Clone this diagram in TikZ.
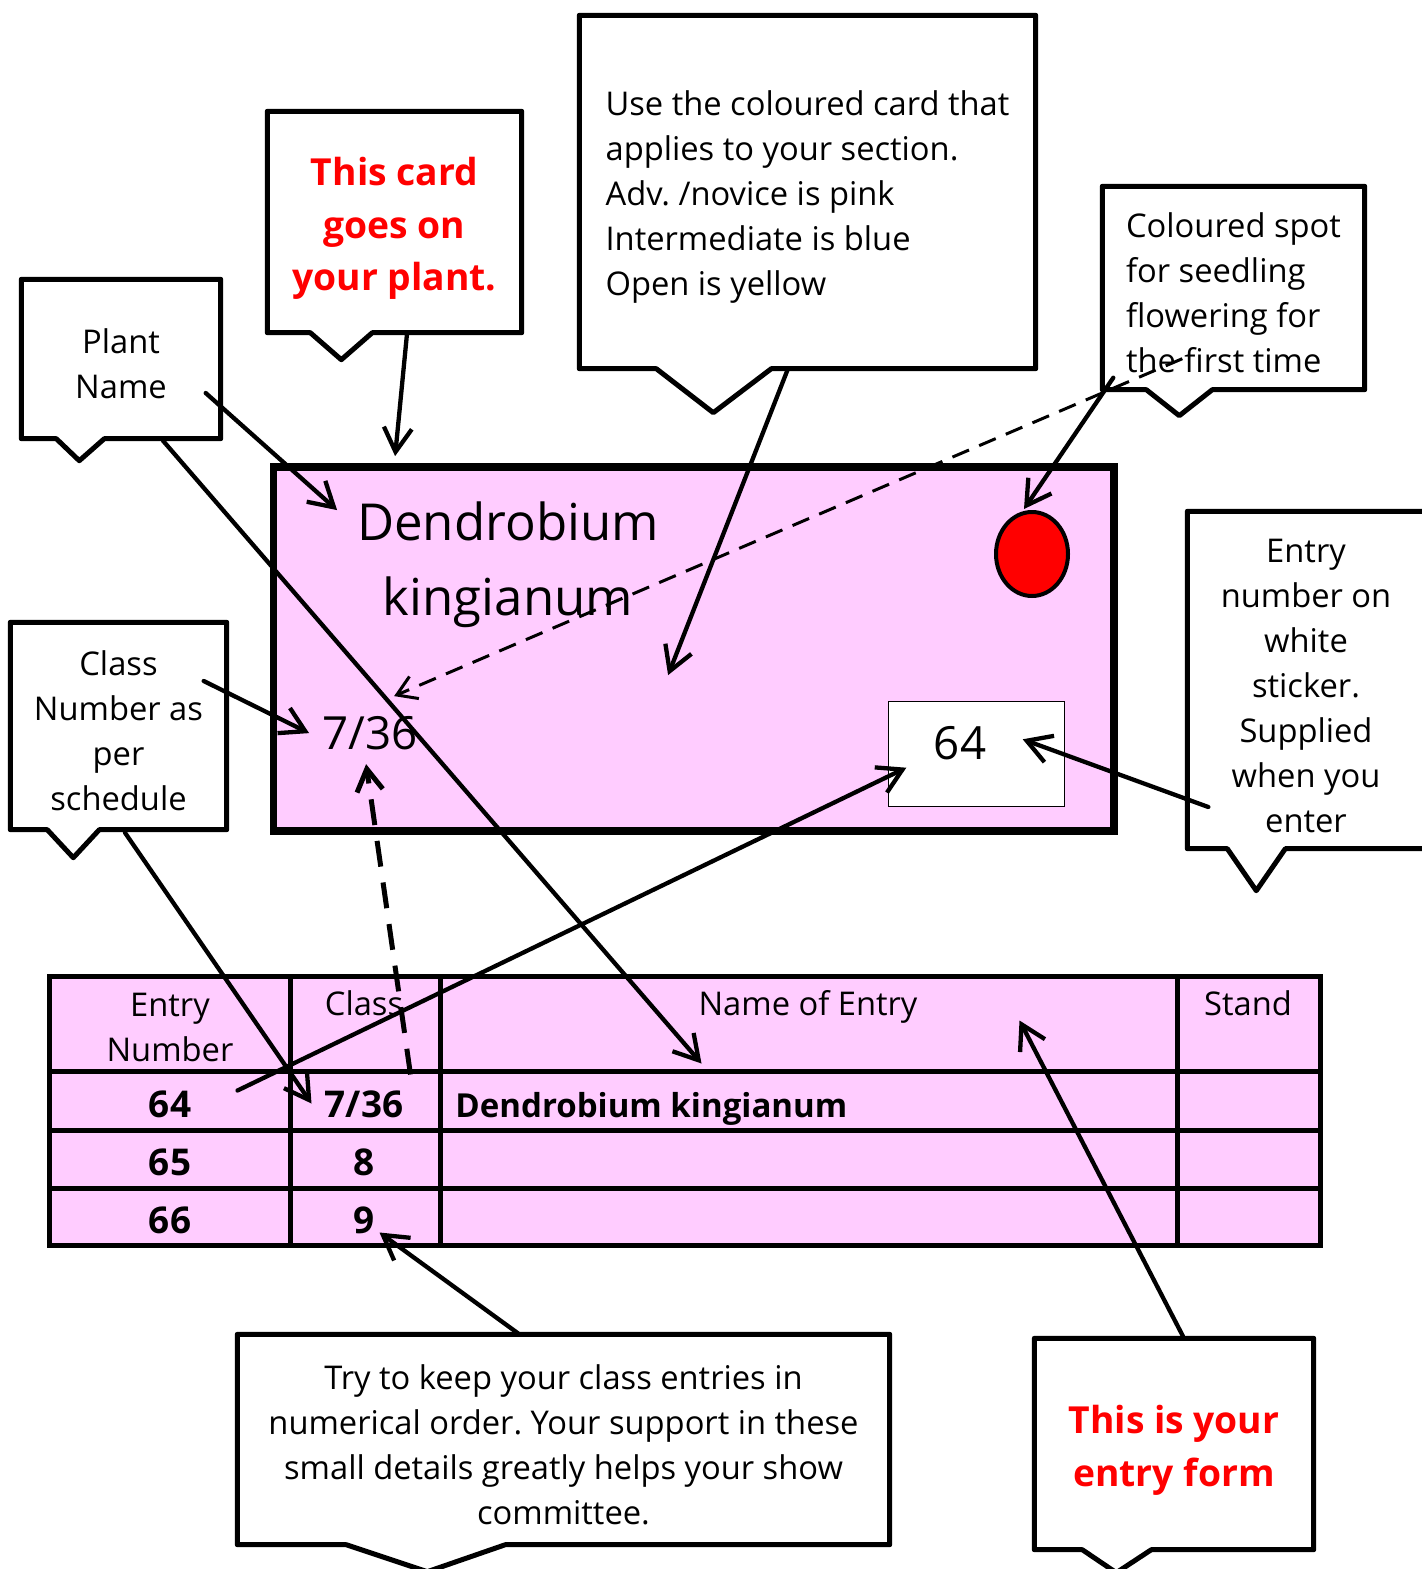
\documentclass[tikz,border=0pt]{standalone}
\usepackage{fontspec}
\setmainfont{Open Sans}
\usetikzlibrary{arrows.meta, shapes.geometric, calc}
\definecolor{cardpink}{RGB}{255,204,255}
\frenchspacing
% room above the first line of a note
\newcommand{\notegap}{\rule{0pt}{3.5mm}}
\newcommand{\redgap}{\rule{0pt}{4.1mm}}

\begin{document}
\begin{tikzpicture}[x=0.1mm, y=-0.1mm]

        \tikzstyle{note} = [inner sep=0, align=center, font=\fontsize{9.3}{12.8}\selectfont];
        \tikzstyle{rednote} = [inner sep=0, align=center, text=red, font=\bfseries\fontsize{10.6}{15}\selectfont];
        \tikzstyle{bubble} = [draw, line width=0.5mm, line join=round];
        \tikzstyle{arrow} = [line width=0.43mm, line cap=round, ->, >={Straight Barb[length=2.4mm,width=2.8mm]}];
        \tikzstyle{hint} = [line width=0.3mm, dash pattern=on 1.8mm off 1.1mm, ->, >={Straight Barb[length=1.9mm,width=2.4mm]}];
        \tikzstyle{copyline} = [line width=0.5mm, dash pattern=on 2.6mm off 1.6mm, ->, >={Straight Barb[length=2.2mm,width=2.6mm]}];
        \tikzstyle{cell} = [align=center, font=\fontsize{9.3}{12.8}\selectfont];
        \tikzstyle{entry} = [anchor=base, font=\bfseries\fontsize{10.5}{12.8}\selectfont];
        \tikzstyle{grid} = [line width=0.5mm];

        \useasboundingbox (0,0) rectangle (1421,1569);

        % the plant card
        \node[draw, fill=cardpink, line width=0.78mm, minimum width=84.05mm, minimum height=36.4mm, inner sep=0] (card) at (693.75,649) {};
        \node[align=center, font=\fontsize{14.5}{21.3}\selectfont] (cardname) at (508,565) {Dendrobium\\kingianum};
        \node[font=\fontsize{13}{15}\selectfont] (cardclass) at (370,733) {7/36};
        \node[draw, line width=0.4pt, fill=white, minimum width=17.6mm, minimum height=10.5mm, inner sep=0] (sticker) at (976.6,754.2) {};
        \node[font=\fontsize{13}{15}\selectfont] (stickno) at (960,743) {64};
        \node[ellipse, draw, fill=red, line width=0.4mm, minimum width=7.2mm, minimum height=8.4mm, inner sep=0] (spot) at (1032,554) {};

        % the entry form
        \node[draw, fill=cardpink, line width=0.5mm, minimum width=127.1mm, minimum height=26.85mm, inner sep=0] (entryform) at (685,1110.75) {};
        \draw[grid] (290,976.5) -- (290,1245);
        \draw[grid] (440,976.5) -- (440,1245);
        \draw[grid] (1177.5,976.5) -- (1177.5,1245);
        \draw[grid] (49.5,1071.5) -- (1320.5,1071.5);
        \draw[grid] (49.5,1130.5) -- (1320.5,1130.5);
        \draw[grid] (49.5,1188.5) -- (1320.5,1188.5);

        \node[cell] (hentry) at (170,1027) {Entry\\Number};
        \node[cell, anchor=base] (hclass) at (364,1015) {Class};
        \node[cell, anchor=base] (hname) at (808,1015) {Name of Entry};
        \node[cell, anchor=base] (hstand) at (1248,1015) {Stand};

        \node[entry] (no64) at (170,1117) {64};
        \node[entry] (cls736) at (364,1117) {7/36};
        \node[entry, anchor=base west, font=\bfseries\fontsize{9.4}{12.8}\selectfont] (name64) at (443,1117) {Dendrobium kingianum};
        \node[entry] (no65) at (170,1175) {65};
        \node[entry] (cls8) at (364,1175) {8};
        \node[entry] (no66) at (170,1233) {66};
        \node[entry] (cls9) at (364,1233) {9};

        % the notes
        \node[rednote, minimum width=25.3mm, minimum height=22mm] (cardnote) at (394.5,222) {\redgap This card\\goes on\\your plant.};
        \node[note, minimum width=19.8mm, minimum height=15.8mm] (plantnote) at (121,359) {\notegap Plant\\Name};
        \node[note, align=left, minimum width=45.5mm, minimum height=35.2mm] (usenote) at (807.5,192) {\notegap Use the coloured card that\\applies to your section.\\Adv. /novice is pink\\Intermediate is blue\\Open is yellow};
        \node[note, align=left, minimum width=26.1mm, minimum height=20.2mm] (spotnote) at (1233.5,288) {\notegap Coloured spot\\for seedling\\flowering for\\the first time};
        \node[note, minimum width=23.6mm, minimum height=33.6mm] (stickernote) at (1306,680) {\notegap Entry\\number on\\white\\sticker.\\Supplied\\when you\\enter};
        \node[note, minimum width=21.5mm, minimum height=20.6mm] (classnote) at (118.5,726) {\notegap Class\\Number as\\per\\schedule};
        \node[note, minimum width=65.1mm, minimum height=20.9mm] (keepnote) at (563.5,1439.5) {\notegap Try to keep your class entries in\\numerical order. Your support in these\\small details greatly helps your show\\committee.};
        \node[rednote, minimum width=27.8mm, minimum height=21mm] (formnote) at (1174,1444) {\redgap This is your\\entry form};

        \draw[bubble] (cardnote.south west) |- (cardnote.north east) |- ($(cardnote.south west)+(105,0)$) -- ($(cardnote.south west)+(74,27)$) -- ($(cardnote.south west)+(43,0)$) -- cycle;
        \draw[bubble] (plantnote.south west) |- (plantnote.north east) |- ($(plantnote.south west)+(83,0)$) -- ($(plantnote.south west)+(58,22)$) -- ($(plantnote.south west)+(35,0)$) -- cycle;
        \draw[bubble] (usenote.south west) |- (usenote.north east) |- ($(usenote.south west)+(192,0)$) -- ($(usenote.south west)+(134,44)$) -- ($(usenote.south west)+(77,0)$) -- cycle;
        \draw[bubble] (spotnote.south west) |- (spotnote.north east) |- ($(spotnote.south west)+(110,0)$) -- ($(spotnote.south west)+(77,26)$) -- ($(spotnote.south west)+(44,0)$) -- cycle;
        \draw[bubble] (stickernote.south west) |- (stickernote.north east) |- ($(stickernote.south west)+(98,0)$) -- ($(stickernote.south west)+(69,42)$) -- ($(stickernote.south west)+(40,0)$) -- cycle;
        \draw[bubble] (classnote.south west) |- (classnote.north east) |- ($(classnote.south west)+(89,0)$) -- ($(classnote.south west)+(63,28)$) -- ($(classnote.south west)+(37,0)$) -- cycle;
        \draw[bubble] (keepnote.south west) |- (keepnote.north east) |- ($(keepnote.south west)+(268,0)$) -- ($(keepnote.south west)+(190,27)$) -- ($(keepnote.south west)+(109,0)$) -- cycle;
        \draw[bubble] (formnote.south west) |- (formnote.north east) |- ($(formnote.south west)+(117,0)$) -- ($(formnote.south west)+(82,23)$) -- ($(formnote.south west)+(48,0)$) -- cycle;

        % what points where
        \draw[arrow] ($(cardnote.south)+(12.5,1)$) -- ($(card.north west)+(125.5,-7)$);
        \draw[arrow] ($(plantnote.east)+(-15,34)$) -- ($(card.north west)+(67.5,47)$);
        \draw[arrow] ($(plantnote.south)+(42,2)$) -- ($(entryform.north west)+(654.5,89.5)$);
        \draw[arrow] ($(usenote.south)+(-19.5,0)$) -- ($(card.north west)+(398.5,212)$);
        \draw[arrow] ($(spotnote.south west)+(11,-12)$) -- ($(spot.north)+(-8,-1)$);
        \draw[hint] ($(spotnote.south west)+(80,-31)$) -- ($(card.north west)+(124.5,233)$);
        \draw[arrow] ($(stickernote.west)+(21,127)$) -- ($(sticker.north east)+(-42.6,38.3)$);
        \draw[arrow] ($(classnote.east)+(-23,-45)$) -- ($(card.north west)+(39.5,270)$);
        \draw[arrow] ($(classnote.south)+(6.5,3)$) -- ($(entryform.north west)+(264.5,129.5)$);
        \draw[arrow] ($(entryform.north west)+(190.5,116.5)$) -- ($(sticker.south west)+(18.4,-39.7)$);
        \draw[copyline] ($(entryform.north west)+(363.5,100.5)$) -- ($(card.north west)+(96.5,301)$);
        \draw[arrow] ($(keepnote.north)+(-45.5,-1)$) -- ($(entryform.north west)+(332.5,258.5)$);
        \draw[arrow] ($(formnote.north)+(9,-2)$) -- ($(entryform.north west)+(972.5,46.5)$);

\end{tikzpicture}
\end{document}
